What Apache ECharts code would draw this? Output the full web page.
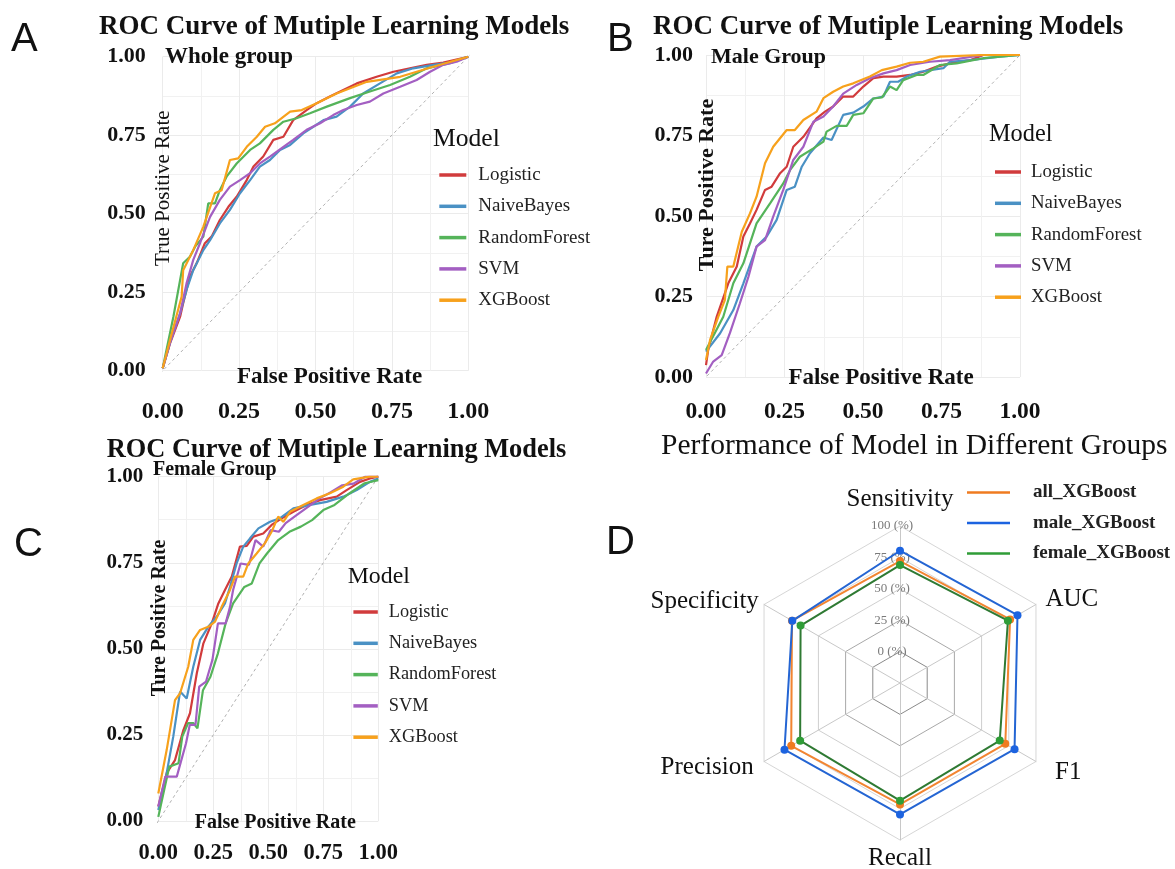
<!DOCTYPE html>
<html><head><meta charset="utf-8">
<script src="https://cdn.jsdelivr.net/npm/echarts@6/dist/echarts.min.js"></script>
<style>html,body{margin:0;padding:0;background:#fff}#c{width:1175px;height:869px}</style>
</head><body><div id="c"></div>
<script>
// ---------------- DATA ----------------
const MODELS = ['Logistic', 'NaiveBayes', 'RandomForest', 'SVM', 'XGBoost'];
const DIAGONAL = [[-0.05, -0.05], [1.05, 1.05]];

// Panel A: whole group  ([FPR, TPR])
const A_LOGISTIC = [[0,0.008],[0.024,0.087],[0.057,0.172],[0.067,0.215],[0.089,0.30],[0.111,0.342],[0.138,0.406],[0.16,0.427],[0.187,0.48],[0.215,0.522],[0.242,0.554],[0.275,0.607],[0.297,0.65],[0.329,0.682],[0.362,0.735],[0.395,0.745],[0.427,0.798],[0.471,0.83],[0.504,0.852],[0.547,0.873],[0.591,0.894],[0.635,0.915],[0.70,0.936],[0.755,0.952],[0.809,0.963],[0.864,0.974],[0.918,0.981],[1,1]];
const A_NAIVEBAYES = [[0,0.008],[0.024,0.09],[0.057,0.183],[0.078,0.257],[0.10,0.32],[0.133,0.384],[0.155,0.416],[0.187,0.469],[0.22,0.512],[0.253,0.565],[0.286,0.607],[0.318,0.65],[0.351,0.671],[0.384,0.703],[0.417,0.719],[0.46,0.756],[0.493,0.777],[0.526,0.798],[0.569,0.809],[0.613,0.841],[0.656,0.883],[0.711,0.915],[0.766,0.947],[0.82,0.963],[0.886,0.974],[0.94,0.981],[1,1]];
const A_RANDOMFOREST = [[0,0.008],[0.035,0.172],[0.067,0.342],[0.089,0.363],[0.106,0.395],[0.133,0.427],[0.149,0.533],[0.171,0.533],[0.187,0.575],[0.209,0.618],[0.242,0.66],[0.286,0.703],[0.318,0.724],[0.362,0.767],[0.395,0.793],[0.438,0.804],[0.482,0.82],[0.537,0.841],[0.613,0.868],[0.678,0.889],[0.744,0.91],[0.809,0.936],[0.864,0.963],[0.94,0.979],[1,1]];
const A_SVM = [[0,0.008],[0.024,0.09],[0.057,0.183],[0.078,0.278],[0.10,0.353],[0.122,0.406],[0.155,0.49],[0.187,0.544],[0.22,0.586],[0.253,0.607],[0.286,0.629],[0.318,0.66],[0.351,0.682],[0.395,0.713],[0.427,0.735],[0.471,0.767],[0.515,0.788],[0.558,0.814],[0.591,0.83],[0.635,0.846],[0.678,0.857],[0.722,0.883],[0.777,0.904],[0.831,0.926],[0.875,0.952],[0.918,0.974],[0.962,0.984],[1,1]];
const A_XGBOOST = [[0,0.008],[0.024,0.098],[0.062,0.236],[0.067,0.32],[0.10,0.384],[0.133,0.459],[0.171,0.565],[0.193,0.575],[0.22,0.671],[0.247,0.676],[0.275,0.713],[0.308,0.745],[0.335,0.777],[0.367,0.788],[0.417,0.825],[0.455,0.83],[0.504,0.852],[0.569,0.883],[0.668,0.92],[0.777,0.936],[0.885,0.968],[1,1]];

// Panel B: male group
const B_LOGISTIC = [[0,0.037],[0.007,0.084],[0.034,0.187],[0.071,0.291],[0.098,0.343],[0.119,0.436],[0.14,0.477],[0.161,0.519],[0.188,0.581],[0.209,0.591],[0.236,0.633],[0.257,0.653],[0.278,0.715],[0.31,0.746],[0.352,0.803],[0.379,0.824],[0.405,0.84],[0.437,0.871],[0.469,0.871],[0.501,0.902],[0.533,0.928],[0.565,0.933],[0.607,0.933],[0.65,0.938],[0.692,0.948],[0.735,0.964],[0.777,0.974],[0.841,0.984],[0.883,1],[1,1]];
const B_NAIVEBAYES = [[0,0.079],[0.045,0.136],[0.087,0.208],[0.119,0.291],[0.161,0.405],[0.193,0.436],[0.225,0.488],[0.257,0.581],[0.283,0.591],[0.305,0.653],[0.331,0.695],[0.374,0.744],[0.40,0.736],[0.437,0.814],[0.469,0.821],[0.501,0.84],[0.533,0.865],[0.565,0.871],[0.586,0.917],[0.612,0.917],[0.639,0.933],[0.682,0.948],[0.756,0.959],[0.777,0.979],[0.841,0.984],[0.936,0.995],[1,1]];
const B_RANDOMFOREST = [[0,0.084],[0.055,0.187],[0.087,0.291],[0.119,0.353],[0.161,0.477],[0.204,0.539],[0.246,0.601],[0.268,0.643],[0.299,0.684],[0.342,0.71],[0.374,0.731],[0.384,0.762],[0.416,0.78],[0.448,0.78],[0.469,0.814],[0.501,0.819],[0.533,0.865],[0.56,0.868],[0.586,0.902],[0.607,0.891],[0.628,0.922],[0.671,0.938],[0.692,0.938],[0.745,0.969],[0.798,0.974],[0.883,0.99],[1,1]];
const B_SVM = [[0,0.011],[0.023,0.048],[0.05,0.068],[0.076,0.136],[0.108,0.229],[0.135,0.311],[0.161,0.405],[0.188,0.425],[0.214,0.498],[0.246,0.581],[0.278,0.674],[0.31,0.715],[0.342,0.793],[0.374,0.809],[0.405,0.84],[0.437,0.88],[0.48,0.907],[0.522,0.928],[0.565,0.943],[0.607,0.953],[0.65,0.969],[0.713,0.979],[0.777,0.984],[0.883,1],[1,1]];
const B_XGBOOST = [[0,0.053],[0.013,0.115],[0.039,0.187],[0.06,0.239],[0.068,0.343],[0.087,0.343],[0.114,0.451],[0.14,0.508],[0.161,0.56],[0.188,0.664],[0.214,0.715],[0.257,0.767],[0.283,0.767],[0.31,0.798],[0.352,0.824],[0.374,0.866],[0.405,0.886],[0.437,0.902],[0.469,0.912],[0.522,0.933],[0.56,0.953],[0.607,0.964],[0.65,0.976],[0.692,0.979],[0.745,0.995],[0.883,1],[1,1]];

// Panel C: female group
const C_LOGISTIC = [[0,0.042],[0.038,0.139],[0.076,0.177],[0.114,0.264],[0.144,0.313],[0.175,0.429],[0.205,0.516],[0.243,0.574],[0.273,0.632],[0.303,0.671],[0.334,0.71],[0.371,0.797],[0.402,0.799],[0.432,0.826],[0.477,0.835],[0.515,0.86],[0.561,0.879],[0.614,0.898],[0.674,0.918],[0.735,0.932],[0.811,0.942],[0.856,0.961],[0.917,0.985],[0.962,0.995],[1,1]];
const C_NAIVEBAYES = [[0,0.032],[0.038,0.139],[0.068,0.245],[0.099,0.376],[0.129,0.356],[0.159,0.448],[0.19,0.526],[0.227,0.564],[0.265,0.593],[0.303,0.632],[0.326,0.68],[0.356,0.748],[0.386,0.797],[0.417,0.821],[0.455,0.85],[0.508,0.869],[0.552,0.879],[0.614,0.908],[0.69,0.918],[0.765,0.927],[0.841,0.942],[0.902,0.961],[0.962,0.985],[1,0.995]];
const C_RANDOMFOREST = [[0,0.012],[0.05,0.158],[0.092,0.168],[0.109,0.245],[0.135,0.284],[0.16,0.284],[0.178,0.269],[0.203,0.38],[0.237,0.419],[0.271,0.487],[0.306,0.574],[0.34,0.632],[0.391,0.68],[0.425,0.69],[0.46,0.748],[0.494,0.777],[0.545,0.816],[0.596,0.84],[0.648,0.855],[0.699,0.874],[0.75,0.903],[0.801,0.918],[0.87,0.952],[0.938,0.981],[1,0.99]];
const C_SVM = [[0,0.042],[0.032,0.129],[0.084,0.129],[0.126,0.226],[0.143,0.279],[0.169,0.279],[0.186,0.39],[0.217,0.405],[0.246,0.468],[0.271,0.574],[0.306,0.574],[0.326,0.622],[0.34,0.671],[0.374,0.748],[0.412,0.744],[0.442,0.816],[0.477,0.797],[0.511,0.845],[0.548,0.84],[0.579,0.865],[0.63,0.889],[0.682,0.913],[0.733,0.937],[0.784,0.955],[0.836,0.975],[0.887,0.98],[0.94,1],[1,1]];
const C_XGBOOST = [[0,0.08],[0.038,0.206],[0.076,0.351],[0.099,0.371],[0.136,0.448],[0.159,0.526],[0.19,0.555],[0.227,0.564],[0.258,0.579],[0.288,0.622],[0.326,0.671],[0.349,0.71],[0.386,0.71],[0.409,0.748],[0.447,0.777],[0.485,0.807],[0.515,0.84],[0.545,0.884],[0.568,0.869],[0.599,0.898],[0.659,0.918],[0.72,0.937],[0.78,0.952],[0.841,0.971],[0.886,0.992],[0.962,1],[1,1]];

// Panel D: radar (percent)
const RADAR_METRICS = ['Sensitivity', 'Specificity', 'Precision', 'Recall', 'F1', 'AUC'];
const RADAR_GROUPS = ['all_XGBoost', 'male_XGBoost', 'female_XGBoost'];
const ALL_XGBOOST = [72.1, 74.3, 75.0, 71.7, 71.8, 76.2];
const MALE_XGBOOST = [80.3, 74.0, 81.2, 79.6, 80.3, 83.0];
const FEMALE_XGBOOST = [68.9, 66.4, 66.8, 68.7, 66.7, 74.2];
const RADAR_MIN = -25, RADAR_MAX = 100;

// ---------------- STYLE / LAYOUT ----------------
const SERIF = 'Liberation Serif';
const SANS = 'Liberation Sans';
const MODEL_COLORS = ['#d13b3c', '#4a91c4', '#55b45a', '#a35fc2', '#f7a11c'];
const RADAR_LINE = ['#f28531', '#2465d3', '#2f7a33'];
const RADAR_DOT = ['#ef7b20', '#1c63e0', '#2f9d37'];
const RADAR_NAME_GAP = [14, 6, 12, 6, 22, 11];

const panels = [
  { grid: {left: 162.7, top: 56.7, width: 305.6, height: 314},
    curves: [A_LOGISTIC, A_NAIVEBAYES, A_RANDOMFOREST, A_SVM, A_XGBOOST],
    yLab: {size: 22, margin: 17}, xLab: {size: 24, margin: 29},
    xName: {text: 'False Positive Rate', size: 23, gap: -5, pad: 28},
    yName: {text: 'True Positive Rate', size: 21, bold: false, gap: -11, pad: 51},
    legend: {left: 439.3, top: 165.5, size: 19, w: 27, gap: 12.3, tpad: 7} },
  { grid: {left: 706, top: 55, width: 314, height: 322},
    curves: [B_LOGISTIC, B_NAIVEBAYES, B_RANDOMFOREST, B_SVM, B_XGBOOST],
    yLab: {size: 22, margin: 13}, xLab: {size: 23.5, margin: 23},
    xName: {text: 'False Positive Rate', size: 23, gap: -10.5, pad: 36},
    yName: {text: 'Ture Positive Rate', size: 22, bold: true, gap: -12.5, pad: 62},
    legend: {left: 995, top: 162.5, size: 18.8, w: 26, gap: 12.3, tpad: 5} },
  { grid: {left: 158.3, top: 476.7, width: 220, height: 344.3},
    curves: [C_LOGISTIC, C_NAIVEBAYES, C_RANDOMFOREST, C_SVM, C_XGBOOST],
    yLab: {size: 21, margin: 15}, xLab: {size: 22.5, margin: 21},
    xName: {text: 'False Positive Rate', size: 20, gap: -7.7, pad: 14},
    yName: {text: 'Ture Positive Rate', size: 20, bold: true, gap: -11.5, pad: 62},
    legend: {left: 353.4, top: 602.5, size: 18.3, w: 24.4, gap: 12.3, tpad: 6} }
];

const grids = [], xAxes = [], yAxes = [], series = [], legends = [];
panels.forEach((p, i) => {
  grids.push(Object.assign({containLabel: false}, p.grid));
  const common = {
    type: 'value', gridIndex: i, min: 0, max: 1, interval: 0.25,
    axisLine: {show: false}, axisTick: {show: false},
    splitLine: {show: true, lineStyle: {color: '#ebebeb', width: 1}},
    minorTick: {show: false, splitNumber: 2},
    minorSplitLine: {show: true, lineStyle: {color: '#f1f1f1', width: 1}},
    nameMoveOverlap: false
  };
  xAxes.push(Object.assign({}, common, {
    axisLabel: {formatter: v => v.toFixed(2), fontFamily: SERIF, fontWeight: 'bold', fontSize: p.xLab.size, color: '#111', margin: p.xLab.margin},
    name: p.xName.text, nameLocation: 'middle', nameGap: p.xName.gap,
    nameTextStyle: {fontFamily: SERIF, fontWeight: 'bold', fontSize: p.xName.size, color: '#111', padding: [0, 0, 0, p.xName.pad]}
  }));
  yAxes.push(Object.assign({}, common, {
    axisLabel: {formatter: v => v.toFixed(2), fontFamily: SERIF, fontWeight: 'bold', fontSize: p.yLab.size, color: '#111', margin: p.yLab.margin},
    name: p.yName.text, nameLocation: 'middle', nameRotate: 90, nameGap: p.yName.gap,
    nameTextStyle: {fontFamily: SERIF, fontWeight: p.yName.bold ? 'bold' : 'normal', fontSize: p.yName.size, color: '#111', padding: [0, 0, 0, p.yName.pad]}
  }));
  series.push({
    type: 'line', xAxisIndex: i, yAxisIndex: i, data: DIAGONAL, symbol: 'none', clip: false, silent: true, z: 1,
    lineStyle: {color: '#b0b0b0', width: 1, type: [3, 3]}
  });
  p.curves.forEach((d, k) => {
    series.push({
      type: 'line', name: MODELS[k], xAxisIndex: i, yAxisIndex: i, data: d,
      symbol: 'none', showSymbol: false, z: 2 + k,
      lineStyle: {color: MODEL_COLORS[k], width: 2.2},
      itemStyle: {color: MODEL_COLORS[k]},
      emphasis: {disabled: true}
    });
  });
  legends.push({
    orient: 'vertical', left: p.legend.left, top: p.legend.top, padding: 0, data: MODELS, icon: 'rect',
    itemWidth: p.legend.w, itemHeight: 3.5, itemGap: p.legend.gap, selectedMode: false,
    textStyle: {fontFamily: SERIF, fontSize: p.legend.size, color: '#222', lineHeight: 19, padding: [0, 0, 0, p.legend.tpad]}
  });
});

legends.push({
  orient: 'vertical', left: 967, top: 483, padding: 0, data: RADAR_GROUPS, icon: 'rect',
  itemWidth: 43, itemHeight: 2.5, itemGap: 11.5, selectedMode: false,
  textStyle: {fontFamily: SERIF, fontWeight: 'bold', fontSize: 19, color: '#222', lineHeight: 19, padding: [0, 0, 0, 18]}
});

const radarValues = [ALL_XGBOOST, MALE_XGBOOST, FEMALE_XGBOOST];
series.push({
  type: 'radar', radarIndex: 0, symbol: 'circle', symbolSize: 8, z: 5,
  data: RADAR_GROUPS.map((g, k) => ({
    name: g, value: radarValues[k],
    lineStyle: {color: RADAR_LINE[k], width: 2},
    itemStyle: {color: RADAR_DOT[k]}
  }))
});

function txt(x, y, text, size, family, weight, align) {
  return {type: 'text', x: x, y: y, z: 100, silent: true,
    style: {text: text, fontSize: size, fontFamily: family, fontWeight: weight || 'normal', fill: '#111',
      align: align || 'left', verticalAlign: 'middle'}};
}

const option = {
  backgroundColor: '#ffffff',
  animation: false,
  grid: grids, xAxis: xAxes, yAxis: yAxes, legend: legends,
  radar: {
    center: [900, 683], radius: 157, startAngle: 90, shape: 'polygon', splitNumber: 5,
    indicator: RADAR_METRICS.map((m, i) => ({
      name: m, min: RADAR_MIN, max: RADAR_MAX, nameGap: RADAR_NAME_GAP[i],
      axisLabel: i === 0 ? {show: true, formatter: v => (v < 0 ? '' : v + ' (%)'), color: '#7a7a7a', fontFamily: SERIF, fontSize: 13, margin: 0, align: 'center', verticalAlign: 'middle', padding: [0, 16, 0, 0]} : {show: false}
    })),
    axisName: {color: '#111', fontFamily: SERIF, fontSize: 25},
    nameGap: 12,
    splitLine: {lineStyle: {color: ['#8a8a8a', '#8a8a8a', '#a8a8a8', '#cfcfcf', '#d6d6d6', '#d6d6d6'], width: 1}},
    splitArea: {show: true, areaStyle: {color: ['#ffffff', 'rgba(255,255,255,0)', 'rgba(255,255,255,0)', 'rgba(255,255,255,0)', 'rgba(255,255,255,0)']}},
    axisLine: {lineStyle: {color: '#c8c8c8'}},
    axisTick: {show: false},
    axisLabel: {show: false}
  },
  graphic: [
    txt(11, 40, 'A', 40, SANS), txt(607, 40, 'B', 40, SANS),
    txt(14, 545, 'C', 40, SANS), txt(606, 543, 'D', 40, SANS),
    txt(99, 26.7, 'ROC Curve of Mutiple Learning Models', 27, SERIF, 'bold'),
    txt(653, 26.7, 'ROC Curve of Mutiple Learning Models', 27, SERIF, 'bold'),
    txt(106.7, 450, 'ROC Curve of Mutiple Learning Models', 26.4, SERIF, 'bold'),
    txt(165, 56.7, 'Whole group', 23, SERIF, 'bold'),
    txt(711, 57, 'Male Group', 22, SERIF, 'bold'),
    txt(153, 470, 'Female Group', 20, SERIF, 'bold'),
    txt(433, 139.3, 'Model', 25.6, SERIF),
    txt(989, 135, 'Model', 24.3, SERIF),
    txt(347.7, 576.7, 'Model', 23.8, SERIF),
    txt(661, 446.7, 'Performance of Model in Different Groups', 29.5, SERIF)
  ],
  series: series
};

const chart = echarts.init(document.getElementById('c'), null, {renderer: 'canvas'});
chart.setOption(option);
</script>
</body></html>
